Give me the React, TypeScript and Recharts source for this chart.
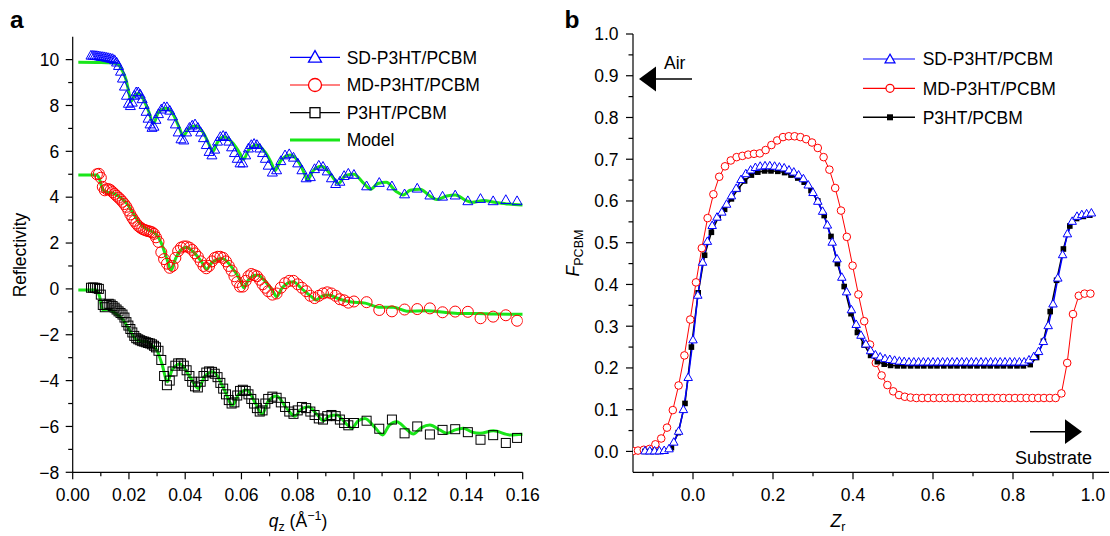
import React from "react";
import { ComposedChart, Line, Scatter, XAxis, YAxis, Legend } from "recharts";

const FONT = '"Liberation Sans", Arial, Helvetica, sans-serif';
const FS = 17.5;
const BLUE = "#0000ff";
const RED = "#ff0000";
const BLACK = "#000000";
const GREEN = "#19e619";

// ---------------- Panel a: reflectivity ----------------
const qData = [
  0.0065, 0.0072, 0.0079, 0.0086, 0.0093, 0.01, 0.0107, 0.0114, 0.0121, 0.0128,
  0.0135, 0.0142, 0.0149, 0.0156, 0.0163, 0.017, 0.0177, 0.0184, 0.0191, 0.0198,
  0.0205, 0.0212, 0.0219, 0.0226, 0.0233, 0.024, 0.0247, 0.0254, 0.0261, 0.0268,
  0.0275, 0.0282, 0.0289, 0.0296,
  0.0305, 0.0315, 0.0325, 0.0335, 0.0345, 0.0355, 0.0365, 0.0375, 0.0385, 0.0395,
  0.0405, 0.0415, 0.0425, 0.0435, 0.0445, 0.0455, 0.0465, 0.0475, 0.0485, 0.0495,
  0.0505, 0.0515, 0.0525, 0.0535, 0.0545, 0.0555, 0.0565, 0.0575, 0.0585, 0.0595,
  0.0605, 0.0615, 0.0625, 0.0635, 0.0645, 0.0655, 0.0665, 0.0675, 0.0685, 0.0695,
  0.071, 0.0725, 0.074, 0.0755, 0.077, 0.0785, 0.08, 0.0815, 0.083, 0.0845,
  0.086, 0.0875, 0.089, 0.0905, 0.092, 0.0935, 0.095, 0.0965, 0.098,
  0.1, 0.1045, 0.109, 0.1135, 0.118, 0.1225, 0.127, 0.1315, 0.136, 0.1405,
  0.145, 0.1495, 0.154, 0.158,
];

const sdRefl = [
  10.15, 10.15, 10.14, 10.13, 10.12, 10.1, 10.09, 10.08, 10.06, 10.04,
  10.02, 10.0, 9.95, 9.85, 9.7, 9.45, 9.15, 8.8, 8.4, 8.05,
  7.95, 8.1, 8.4, 8.55, 8.55, 8.45, 8.25, 8.0, 7.7, 7.4,
  7.15, 7.0, 7.05, 7.35,
  7.6, 7.8, 7.9, 7.9, 7.75, 7.5, 7.15, 6.8, 6.5, 6.45,
  6.8, 7.0, 7.1, 7.15, 7.0, 6.8, 6.55, 6.25, 5.95, 5.8,
  6.05, 6.4, 6.6, 6.65, 6.6, 6.4, 6.15, 5.9, 5.65, 5.45,
  5.45, 5.8, 6.1, 6.25, 6.3, 6.25, 6.1, 5.9, 5.65, 5.35,
  5.05, 5.15, 5.55, 5.8, 5.85, 5.7, 5.45, 5.15, 4.8, 4.85,
  5.2, 5.35, 5.3, 5.1, 4.8, 4.55, 4.65, 4.9, 5.0,
  4.95, 4.45, 4.6, 4.45, 4.1, 4.35, 4.05, 4.0, 4.05, 3.8,
  3.9, 3.8, 3.85, 3.8,
];

const mdRefl = [
  null, null, null, 5.0, 5.02, 4.85, 4.45, 4.3, 4.35, 4.35,
  4.3, 4.22, 4.14, 4.06, 3.98, 3.9, 3.8, 3.7, 3.58, 3.42,
  3.25, 3.1, 2.97, 2.85, 2.75, 2.68, 2.62, 2.58, 2.55, 2.52,
  2.5, 2.47, 2.4, 2.25,
  2.05, 1.6, 1.3, 1.1, 0.92, 1.0, 1.35, 1.65, 1.8, 1.85,
  1.85, 1.8, 1.7, 1.55, 1.4, 1.2, 1.0, 0.9, 1.0, 1.2,
  1.35, 1.4, 1.4, 1.35, 1.2, 1.0, 0.8, 0.55, 0.3, 0.1,
  0.1, 0.35, 0.55, 0.65, 0.6, 0.55, 0.4, 0.2, 0.05, -0.1,
  -0.25, -0.2, 0.05, 0.25, 0.35, 0.35, 0.2, 0.05, -0.1, -0.3,
  -0.4, -0.3, -0.2, -0.15, -0.2, -0.3, -0.45, -0.5, -0.6,
  -0.55, -0.58, -0.92, -0.98, -0.9, -0.88, -0.85, -1.02, -0.99, -1.0,
  -1.28, -1.21, -1.15, -1.39,
];

const p3Refl = [
  0.05, 0.06, 0.05, 0.03, 0.0, -0.25, -0.7, -0.8, -0.7, -0.65,
  -0.68, -0.75, -0.82, -0.9, -0.98, -1.05, -1.12, -1.25, -1.45, -1.6,
  -1.75, -1.9, -2.05, -2.15, -2.2, -2.24, -2.28, -2.3, -2.33, -2.36,
  -2.38, -2.42, -2.48, -2.55,
  -2.7, -3.1, -3.8, -4.2, -4.0, -3.6, -3.35, -3.25, -3.25, -3.35,
  -3.55, -3.8, -4.05, -4.25, -4.3, -4.05, -3.8, -3.65, -3.6, -3.62,
  -3.7, -3.85, -4.1, -4.35, -4.6, -4.85, -5.0, -4.95, -4.65, -4.45,
  -4.4, -4.45, -4.6, -4.8, -5.0, -5.2, -5.35, -5.3, -5.0, -4.8,
  -4.7, -4.75, -4.95, -5.15, -5.35, -5.45, -5.3, -5.15, -5.2, -5.35,
  -5.5, -5.65, -5.7, -5.55, -5.5, -5.55, -5.7, -5.85, -5.95,
  -5.85, -5.75, -6.1, -5.7, -6.3, -6.0, -6.35, -6.15, -6.12, -6.25,
  -6.58, -6.38, -6.72, -6.5,
];

const sdModelQ = [
  0.002, 0.01, 0.014, 0.016, 0.0175, 0.019, 0.02, 0.0207, 0.0218, 0.0233,
  0.025, 0.027, 0.0287, 0.0305, 0.0332, 0.036, 0.038, 0.0393, 0.041, 0.0435,
  0.0465, 0.0485, 0.0498, 0.0515, 0.0538, 0.057, 0.0595, 0.0607, 0.0625, 0.0654,
  0.0685, 0.0708, 0.0719, 0.074, 0.0773, 0.0805, 0.0825, 0.0834, 0.0855, 0.0885,
  0.092, 0.0945, 0.097, 0.1, 0.1035, 0.106, 0.1085, 0.1115, 0.115, 0.1175,
  0.12, 0.1235, 0.127, 0.1295, 0.133, 0.136, 0.14, 0.142, 0.146, 0.15,
  0.155, 0.16,
];
const sdModelR = [
  9.89, 9.88, 9.86, 9.8, 9.55, 9.11, 8.55, 8.17, 8.4, 8.53,
  8.3, 7.75, 7.22, 7.7, 7.88, 7.55, 7.0, 6.67, 6.95, 7.11,
  6.8, 6.3, 5.99, 6.4, 6.64, 6.35, 5.9, 5.65, 6.05, 6.28,
  5.95, 5.45, 5.16, 5.6, 5.84, 5.5, 5.0, 4.75, 5.15, 5.35,
  4.95, 4.6, 4.95, 5.0, 4.6, 4.35, 4.6, 4.65, 4.25, 4.1,
  4.3, 4.35, 4.05, 3.9, 4.05, 4.1, 3.85, 3.78, 3.85, 3.78,
  3.7, 3.66,
];

const mdModelQ = [
  0.002, 0.0085, 0.0095, 0.0103, 0.0115, 0.013, 0.0144, 0.017, 0.0192, 0.0215,
  0.0239, 0.0255, 0.0269, 0.0285, 0.0299, 0.0315, 0.0335, 0.035, 0.0365, 0.0385,
  0.0405, 0.043, 0.046, 0.0476, 0.0495, 0.0532, 0.0565, 0.0595, 0.0609, 0.0625,
  0.0656, 0.069, 0.0712, 0.0725, 0.0745, 0.0784, 0.0815, 0.085, 0.0865, 0.0885,
  0.0909, 0.095, 0.0986, 0.104, 0.1093, 0.114, 0.1188, 0.1259, 0.132, 0.1377,
  0.144, 0.1496, 0.16,
];
const mdModelR = [
  4.97, 4.97, 4.8, 4.46, 4.24, 4.2, 4.17, 3.98, 3.73, 3.3,
  2.86, 2.68, 2.57, 2.48, 2.35, 2.0, 1.3, 0.82, 1.3, 1.7,
  1.82, 1.6, 1.15, 0.86, 1.15, 1.33, 0.95, 0.4, 0.05, 0.4,
  0.61, 0.25, -0.1, -0.34, 0.05, 0.31, 0.0, -0.35, -0.48, -0.33,
  -0.27, -0.45, -0.56, -0.62, -0.8, -0.8, -0.97, -0.95, -1.02, -1.07,
  -1.07, -1.1, -1.11,
];

const p3ModelQ = [
  0.002, 0.0085, 0.0095, 0.0107, 0.0127, 0.015, 0.018, 0.0205, 0.0228, 0.0245,
  0.0263, 0.028, 0.0299, 0.0318, 0.0336, 0.0355, 0.0382, 0.0415, 0.0447, 0.047,
  0.05, 0.0535, 0.0569, 0.059, 0.0619, 0.065, 0.0674, 0.0695, 0.0725, 0.076,
  0.079, 0.0812, 0.0838, 0.087, 0.0891, 0.0912, 0.0939, 0.097, 0.0992, 0.1015,
  0.1039, 0.1075, 0.1102, 0.1125, 0.1152, 0.1185, 0.1211, 0.124, 0.127, 0.1305,
  0.133, 0.136, 0.1389, 0.142, 0.1448, 0.1496, 0.1555, 0.16,
];
const p3ModelR = [
  -0.05, -0.05, -0.3, -0.92, -0.89, -1.05, -1.36, -1.85, -2.23, -2.28,
  -2.3, -2.45, -2.67, -3.3, -4.05, -3.5, -3.28, -3.8, -4.34, -3.8,
  -3.61, -4.3, -5.07, -4.6, -4.41, -5.0, -5.46, -4.9, -4.67, -5.2,
  -5.55, -5.25, -5.14, -5.5, -5.75, -5.55, -5.5, -5.85, -6.08, -5.75,
  -5.65, -6.05, -6.37, -5.95, -5.79, -6.1, -6.33, -6.05, -5.94, -6.15,
  -6.3, -6.15, -6.08, -6.25, -6.3, -6.19, -6.37, -6.34,
];

const qTicks = [0, 0.01, 0.02, 0.03, 0.04, 0.05, 0.06, 0.07, 0.08, 0.09, 0.1, 0.11, 0.12, 0.13, 0.14, 0.15, 0.16];
const rTicks = [-8, -7, -6, -5, -4, -3, -2, -1, 0, 1, 2, 3, 4, 5, 6, 7, 8, 9, 10];

// ---------------- Panel b: F_PCBM profiles ----------------
const zRed = [
  -0.15, -0.1375, -0.123, -0.1085, -0.094, -0.0795, -0.065, -0.0505, -0.036, -0.0215,
  -0.007, 0.0075, 0.022, 0.0365, 0.051, 0.0655, 0.08, 0.0945, 0.109, 0.1235,
  0.138, 0.1525, 0.167, 0.1815, 0.196, 0.2105, 0.225, 0.2395, 0.254, 0.2685,
  0.283, 0.2975, 0.312, 0.3265, 0.341, 0.3555, 0.37, 0.3845, 0.399, 0.4135,
  0.428, 0.4425, 0.457, 0.4715, 0.486, 0.5005, 0.515, 0.5295, 0.544, 0.5585,
  0.573, 0.5875, 0.602, 0.6165, 0.631, 0.6455, 0.66, 0.6745, 0.689, 0.7035,
  0.718, 0.7325, 0.747, 0.7615, 0.776, 0.7905, 0.805, 0.8195, 0.834, 0.8485,
  0.863, 0.8775, 0.892, 0.9065, 0.921, 0.9355, 0.95, 0.9645, 0.979, 0.9935,
];
const fRed = [
  0.001, 0.002, 0.004, 0.006, 0.017, 0.031, 0.057, 0.099, 0.158, 0.23,
  0.316, 0.405, 0.487, 0.559, 0.616, 0.658, 0.683, 0.697, 0.705, 0.708,
  0.711, 0.713, 0.714, 0.722, 0.734, 0.745, 0.753, 0.755, 0.755, 0.753,
  0.748, 0.74, 0.727, 0.705, 0.675, 0.631, 0.577, 0.514, 0.445, 0.376,
  0.312, 0.256, 0.212, 0.182, 0.159, 0.144, 0.135, 0.131, 0.129, 0.128,
  0.128, 0.128, 0.128, 0.128, 0.128, 0.128, 0.128, 0.128, 0.128, 0.128,
  0.128, 0.128, 0.128, 0.128, 0.128, 0.128, 0.128, 0.128, 0.128, 0.128,
  0.128, 0.128, 0.128, 0.128, 0.139, 0.212, 0.329, 0.373, 0.378, 0.378,
];

const zBlue = [
  -0.12, -0.108, -0.096, -0.084, -0.072, -0.06, -0.048, -0.036, -0.024, -0.012,
  0.0, 0.012, 0.024, 0.036, 0.048, 0.06, 0.072, 0.084, 0.096, 0.108,
  0.12, 0.132, 0.144, 0.156, 0.168, 0.18, 0.192, 0.204, 0.216, 0.228,
  0.24, 0.252, 0.264, 0.276, 0.288, 0.3, 0.312, 0.324, 0.336, 0.348,
  0.36, 0.372, 0.384, 0.396, 0.408, 0.42, 0.432, 0.444, 0.456, 0.468,
  0.48, 0.492, 0.504, 0.516, 0.528, 0.54, 0.552, 0.564, 0.576, 0.588,
  0.6, 0.612, 0.624, 0.636, 0.648, 0.66, 0.672, 0.684, 0.696, 0.708,
  0.72, 0.732, 0.744, 0.756, 0.768, 0.78, 0.792, 0.804, 0.816, 0.828,
  0.84, 0.852, 0.864, 0.876, 0.888, 0.9, 0.912, 0.924, 0.936, 0.948,
  0.96, 0.972, 0.984, 0.996,
];
const fBlue = [
  0.0, 0.0, 0.0, 0.0, 0.001, 0.005, 0.021, 0.047, 0.099, 0.176,
  0.266, 0.373, 0.452, 0.502, 0.54, 0.56, 0.572, 0.591, 0.611, 0.629,
  0.65, 0.664, 0.673, 0.679, 0.682, 0.683, 0.683, 0.682, 0.68, 0.678,
  0.673, 0.668, 0.661, 0.652, 0.637, 0.619, 0.598, 0.574, 0.541, 0.5,
  0.46, 0.416, 0.381, 0.338, 0.303, 0.277, 0.256, 0.24, 0.23, 0.225,
  0.221, 0.219, 0.217, 0.215, 0.214, 0.213, 0.213, 0.213, 0.213, 0.213,
  0.213, 0.213, 0.213, 0.213, 0.213, 0.213, 0.213, 0.213, 0.213, 0.213,
  0.213, 0.213, 0.213, 0.213, 0.213, 0.213, 0.213, 0.213, 0.213, 0.213,
  0.218, 0.226, 0.238, 0.262, 0.3, 0.352, 0.414, 0.47, 0.52, 0.55,
  0.562, 0.566, 0.568, 0.57,
];

const zBlack = [
  -0.12, -0.103, -0.087, -0.07, -0.054, -0.037, -0.02, -0.004, 0.013, 0.029,
  0.046, 0.063, 0.079, 0.096, 0.112, 0.129, 0.146, 0.162, 0.179, 0.195,
  0.212, 0.229, 0.245, 0.262, 0.278, 0.295, 0.312, 0.328, 0.345, 0.361,
  0.378, 0.395, 0.411, 0.428, 0.444, 0.461, 0.478, 0.494, 0.511, 0.527,
  0.544, 0.561, 0.577, 0.594, 0.61, 0.627, 0.644, 0.66, 0.677, 0.693,
  0.71, 0.727, 0.743, 0.76, 0.776, 0.793, 0.81, 0.826, 0.843, 0.859,
  0.876, 0.893, 0.909, 0.926, 0.942, 0.959, 0.976, 0.992,
];
const fBlack = [
  0.0, 0.0, 0.0, 0.001, 0.009, 0.045, 0.115, 0.25, 0.38, 0.47,
  0.525, 0.56, 0.58, 0.605, 0.628, 0.648, 0.662, 0.669, 0.672, 0.672,
  0.671, 0.668, 0.662, 0.655, 0.645, 0.625, 0.6, 0.565, 0.515, 0.45,
  0.395, 0.33, 0.285, 0.255, 0.23, 0.215, 0.209, 0.206, 0.205, 0.205,
  0.205, 0.205, 0.205, 0.205, 0.205, 0.205, 0.205, 0.205, 0.205, 0.205,
  0.205, 0.205, 0.205, 0.205, 0.205, 0.205, 0.205, 0.205, 0.208, 0.225,
  0.264, 0.335, 0.41, 0.485, 0.54, 0.558, 0.563, 0.566,
];

const zTicks = [-0.1, 0, 0.1, 0.2, 0.3, 0.4, 0.5, 0.6, 0.7, 0.8, 0.9, 1.0];
const fTicks = [0, 0.05, 0.1, 0.15, 0.2, 0.25, 0.3, 0.35, 0.4, 0.45, 0.5, 0.55, 0.6, 0.65, 0.7, 0.75, 0.8, 0.85, 0.9, 0.95, 1.0];

// ---------------- helpers ----------------
function pairs(xs: number[], ys: (number | null)[], kx: string, ky: string) {
  const out: Record<string, number>[] = [];
  xs.forEach((x, i) => {
    const y = ys[i];
    if (y !== null && y !== undefined) out.push({ [kx]: x, [ky]: y });
  });
  return out;
}

const sdPts = pairs(qData, sdRefl, "q", "r");
const mdPts = pairs(qData, mdRefl, "q", "r");
const p3Pts = pairs(qData, p3Refl, "q", "r");
const sdModel = pairs(sdModelQ, sdModelR, "q", "r");
const mdModel = pairs(mdModelQ, mdModelR, "q", "r");
const p3Model = pairs(p3ModelQ, p3ModelR, "q", "r");
const redProf = pairs(zRed, fRed, "z", "f");
const blueProf = pairs(zBlue, fBlue, "z", "f");
const blackProf = pairs(zBlack, fBlack, "z", "f");

const triPath = (cx: number, cy: number, w: number) => {
  const h = w * 0.88;
  return `M${cx},${cy - (2 * h) / 3} L${cx + w / 2},${cy + h / 3} L${cx - w / 2},${cy + h / 3} Z`;
};

const qMajor = (v: number) => Math.round(v * 100) % 2 === 0;
const rMajor = (v: number) => Math.round(v) % 2 === 0;
const zMajor = (v: number) => v > -0.01 && Math.round(v * 10) % 2 === 0;
const fMajor = (v: number) => Math.round(v * 100) % 10 === 0;
const qFmt = (v: number) => v.toFixed(2);
const rFmt = (v: number) => (v < 0 ? "\u2212" + Math.abs(v) : String(v));
const oneFmt = (v: number) => v.toFixed(1);

const AX = { stroke: "#000", strokeWidth: 1.2 };

function bottomTick(isMajor: (v: number) => boolean, fmt: (v: number) => string) {
  return (props: any) => {
    const { x, y, payload } = props;
    const v = payload.value;
    const M = isMajor(v);
    return (
      <g>
        <line x1={x} x2={x} y1={y} y2={y + (M ? 7 : 4)} stroke="#000" strokeWidth={1.2} />
        {M ? (
          <text x={x} y={y + 29} textAnchor="middle" fontSize={FS} fontFamily={FONT} fill="#000">
            {fmt(v)}
          </text>
        ) : null}
      </g>
    );
  };
}
function leftTick(isMajor: (v: number) => boolean, fmt: (v: number) => string, gap: number) {
  return (props: any) => {
    const { x, y, payload } = props;
    const v = payload.value;
    const M = isMajor(v);
    return (
      <g>
        <line x1={x - (M ? 7 : 4.5)} x2={x} y1={y} y2={y} stroke="#000" strokeWidth={1.2} />
        {M ? (
          <text x={x - gap} y={y} dy="0.36em" textAnchor="end" fontSize={FS} fontFamily={FONT} fill="#000">
            {fmt(v)}
          </text>
        ) : null}
      </g>
    );
  };
}
function topTick(isMajor: (v: number) => boolean) {
  return (props: any) => {
    const { x, y, payload } = props;
    const M = isMajor(payload.value);
    return <line x1={x} x2={x} y1={y} y2={y + (M ? 6 : 4)} stroke="#000" strokeWidth={1.2} />;
  };
}
function rightTick(isMajor: (v: number) => boolean) {
  return (props: any) => {
    const { x, y, payload } = props;
    const M = isMajor(payload.value);
    return <line x1={x - (M ? 6 : 4)} x2={x} y1={y} y2={y} stroke="#000" strokeWidth={1.2} />;
  };
}

// markers
const TriA = (p: any) => <path d={triPath(p.cx, p.cy, 10)} fill="none" stroke={BLUE} strokeWidth={1} />;
const CircA = (p: any) => <circle cx={p.cx} cy={p.cy} r={5.5} fill="none" stroke={RED} strokeWidth={1} />;
const SqA = (p: any) => (
  <rect x={p.cx - 4.5} y={p.cy - 4.5} width={9} height={9} fill="none" stroke={BLACK} strokeWidth={1} />
);

const txt = { fontSize: FS, fontFamily: FONT, fill: "#000" } as const;

const LegendA = () => {
  const rows = [15.3, 43, 70.7, 98];
  return (
    <svg width={240} height={115} style={{ display: "block", overflow: "visible" }}>
      <line x1={10} x2={60} y1={rows[0]} y2={rows[0]} stroke={BLUE} strokeWidth={1.2} />
      <path d={triPath(35, rows[0] + 1, 13)} fill="#fff" stroke={BLUE} strokeWidth={1.3} />
      <text x={66.7} y={rows[0]} dy="0.36em" {...txt}>SD-P3HT/PCBM</text>
      <line x1={10} x2={60} y1={rows[1]} y2={rows[1]} stroke={RED} strokeWidth={1.2} />
      <circle cx={35} cy={rows[1]} r={6.5} fill="#fff" stroke={RED} strokeWidth={1.3} />
      <text x={66.7} y={rows[1]} dy="0.36em" {...txt}>MD-P3HT/PCBM</text>
      <line x1={10} x2={60} y1={rows[2]} y2={rows[2]} stroke={BLACK} strokeWidth={1.2} />
      <rect x={30} y={rows[2] - 5} width={10} height={10} fill="#fff" stroke={BLACK} strokeWidth={1.3} />
      <text x={66.7} y={rows[2]} dy="0.36em" {...txt}>P3HT/PCBM</text>
      <line x1={10} x2={60} y1={rows[3]} y2={rows[3]} stroke={GREEN} strokeWidth={3} />
      <text x={66.7} y={rows[3]} dy="0.36em" {...txt}>Model</text>
    </svg>
  );
};

const LegendB = () => {
  const rows = [15, 44.3, 73.3];
  return (
    <svg width={240} height={90} style={{ display: "block", overflow: "visible" }}>
      <line x1={8} x2={60} y1={rows[0]} y2={rows[0]} stroke={BLUE} strokeWidth={1.2} />
      <path d={triPath(35, rows[0] + 1, 10)} fill="#fff" stroke={BLUE} strokeWidth={1.2} />
      <text x={67.7} y={rows[0]} dy="0.36em" {...txt}>SD-P3HT/PCBM</text>
      <line x1={8} x2={60} y1={rows[1]} y2={rows[1]} stroke={RED} strokeWidth={1.2} />
      <circle cx={35} cy={rows[1]} r={4} fill="#fff" stroke={RED} strokeWidth={1.2} />
      <text x={67.7} y={rows[1]} dy="0.36em" {...txt}>MD-P3HT/PCBM</text>
      <line x1={8} x2={60} y1={rows[2]} y2={rows[2]} stroke={BLACK} strokeWidth={1.5} />
      <rect x={32} y={rows[2] - 3} width={6} height={6} fill={BLACK} />
      <text x={67.7} y={rows[2]} dy="0.36em" {...txt}>P3HT/PCBM</text>
    </svg>
  );
};

function ChartA() {
  return (
    <ComposedChart width={560} height={536} margin={{ top: 36.7, right: 37.3, bottom: 0, left: 0 }}>
      <XAxis
        xAxisId="b" type="number" dataKey="q" domain={[0, 0.16]} allowDataOverflow
        ticks={qTicks} interval={0} tickSize={0} tickMargin={0} height={63.7}
        axisLine={AX} tickLine={false} tick={bottomTick(qMajor, qFmt)}
      />
      <XAxis
        xAxisId="t" orientation="top" type="number" dataKey="q" domain={[0, 0.16]} allowDataOverflow
        ticks={qTicks} interval={0} tickSize={0} tickMargin={0} height={0}
        axisLine={AX} tickLine={false} tick={topTick(qMajor)}
      />
      <YAxis
        yAxisId="l" type="number" dataKey="r" domain={[-8, 11]} allowDataOverflow
        ticks={rTicks} interval={0} tickSize={0} tickMargin={0} width={72.7}
        axisLine={AX} tickLine={false} tick={leftTick(rMajor, rFmt, 13.5)}
      />
      <YAxis
        yAxisId="rt" orientation="right" type="number" domain={[-8, 11]} allowDataOverflow
        ticks={rTicks} interval={0} tickSize={0} tickMargin={0} width={0}
        axisLine={AX} tickLine={false} tick={rightTick(rMajor)}
      />
      <Scatter xAxisId="b" yAxisId="l" data={sdPts} shape={TriA} isAnimationActive={false} />
      <Scatter xAxisId="b" yAxisId="l" data={mdPts} shape={CircA} isAnimationActive={false} />
      <Scatter xAxisId="b" yAxisId="l" data={p3Pts} shape={SqA} isAnimationActive={false} />
      <Line xAxisId="b" yAxisId="l" data={sdModel} dataKey="r" type="monotone" stroke={GREEN} strokeWidth={3} dot={false} activeDot={false} isAnimationActive={false} />
      <Line xAxisId="b" yAxisId="l" data={mdModel} dataKey="r" type="monotone" stroke={GREEN} strokeWidth={3} dot={false} activeDot={false} isAnimationActive={false} />
      <Line xAxisId="b" yAxisId="l" data={p3Model} dataKey="r" type="monotone" stroke={GREEN} strokeWidth={3} dot={false} activeDot={false} isAnimationActive={false} />
      <Legend
        layout="vertical" align="center" verticalAlign="middle"
        wrapperStyle={{ left: 280, top: 42, width: 240, height: 115 }}
        content={() => <LegendA />}
      />
    </ComposedChart>
  );
}

function ChartB() {
  return (
    <ComposedChart width={550} height={536} margin={{ top: 34, right: 1, bottom: 0, left: 0 }}>
      <XAxis
        xAxisId="b" type="number" dataKey="z" domain={[-0.15, 1.04]} allowDataOverflow
        ticks={zTicks} interval={0} tickSize={0} tickMargin={0} height={63.7}
        axisLine={AX} tickLine={false} tick={bottomTick(zMajor, oneFmt)}
      />
      <XAxis
        xAxisId="t" orientation="top" type="number" dataKey="z" domain={[-0.15, 1.04]} allowDataOverflow
        ticks={zTicks} interval={0} tickSize={0} tickMargin={0} height={0}
        axisLine={AX} tickLine={false} tick={topTick(zMajor)}
      />
      <YAxis
        yAxisId="l" type="number" dataKey="f" domain={[-0.05, 1.0]} allowDataOverflow
        ticks={fTicks} interval={0} tickSize={0} tickMargin={0} width={73}
        axisLine={AX} tickLine={false} tick={leftTick(fMajor, oneFmt, 14.5)}
      />
      <Line
        xAxisId="b" yAxisId="l" data={redProf} dataKey="f" type="linear" stroke={RED} strokeWidth={1}
        dot={(p: any) => <circle key={"r" + p.index} cx={p.cx} cy={p.cy} r={3.8} fill="#fff" stroke={RED} strokeWidth={1} />}
        activeDot={false} isAnimationActive={false}
      />
      <Line
        xAxisId="b" yAxisId="l" data={blackProf} dataKey="f" type="linear" stroke={BLACK} strokeWidth={1.5}
        dot={(p: any) => <rect key={"k" + p.index} x={p.cx - 2.8} y={p.cy - 2.8} width={5.6} height={5.6} fill={BLACK} />}
        activeDot={false} isAnimationActive={false}
      />
      <Line
        xAxisId="b" yAxisId="l" data={blueProf} dataKey="f" type="linear" stroke={BLUE} strokeWidth={1.5}
        dot={(p: any) => <path key={"b" + p.index} d={triPath(p.cx, p.cy, 8.5)} fill="#fff" stroke={BLUE} strokeWidth={1} />}
        activeDot={false} isAnimationActive={false}
      />
      <Legend
        layout="vertical" align="center" verticalAlign="middle"
        wrapperStyle={{ left: 295, top: 44, width: 240, height: 90 }}
        content={() => <LegendB />}
      />
    </ComposedChart>
  );
}

export default function App() {
  return (
    <div style={{ position: "absolute", left: 0, top: 0, width: 1110, height: 536, overflow: "hidden", background: "#fff" }}>
      <div style={{ position: "absolute", left: 0, top: 0 }}>
        <ChartA />
      </div>
      <div style={{ position: "absolute", left: 560, top: 0 }}>
        <ChartB />
      </div>
      <svg width={1110} height={536} style={{ position: "absolute", left: 0, top: 0, pointerEvents: "none" }}>
        <text x={10} y={28.3} fontSize={24.5} fontWeight="bold" fontFamily={FONT} fill="#000">a</text>
        <text x={564.5} y={27.5} fontSize={24.5} fontWeight="bold" fontFamily={FONT} fill="#000">b</text>
        <text x={26} y={255} transform="rotate(-90 26 255)" textAnchor="middle" {...txt}>Reflectivity</text>
        <text x={298} y={527} textAnchor="middle" {...txt}>
          <tspan fontStyle="italic">q</tspan>
          <tspan fontSize={12.5} dy={4}>z</tspan>
          <tspan dy={-4}> (Å</tspan>
          <tspan fontSize={12.5} dy={-7}>{"\u22121"}</tspan>
          <tspan dy={7}>)</tspan>
        </text>
        <text x={579} y={253} transform="rotate(-90 579 253)" textAnchor="middle" {...txt}>
          <tspan fontStyle="italic">F</tspan>
          <tspan fontSize={12.5} dy={4}>PCBM</tspan>
        </text>
        <text x={838} y={527} textAnchor="middle" {...txt}>
          <tspan fontStyle="italic">Z</tspan>
          <tspan fontSize={12.5} dy={4}>r</tspan>
        </text>
        <polygon points="639,79 656,66.5 656,91.5" fill="#000" />
        <line x1={655} y1={79} x2={692} y2={79} stroke="#000" strokeWidth={1.6} />
        <text x={664} y={68.5} {...txt}>Air</text>
        <line x1={1030} y1={431.7} x2={1066} y2={431.7} stroke="#000" strokeWidth={1.6} />
        <polygon points="1065,419.3 1082,431.7 1065,444" fill="#000" />
        <text x={1092} y={464.3} textAnchor="end" fontSize={18} fontFamily={FONT} fill="#000">Substrate</text>
      </svg>
    </div>
  );
}
